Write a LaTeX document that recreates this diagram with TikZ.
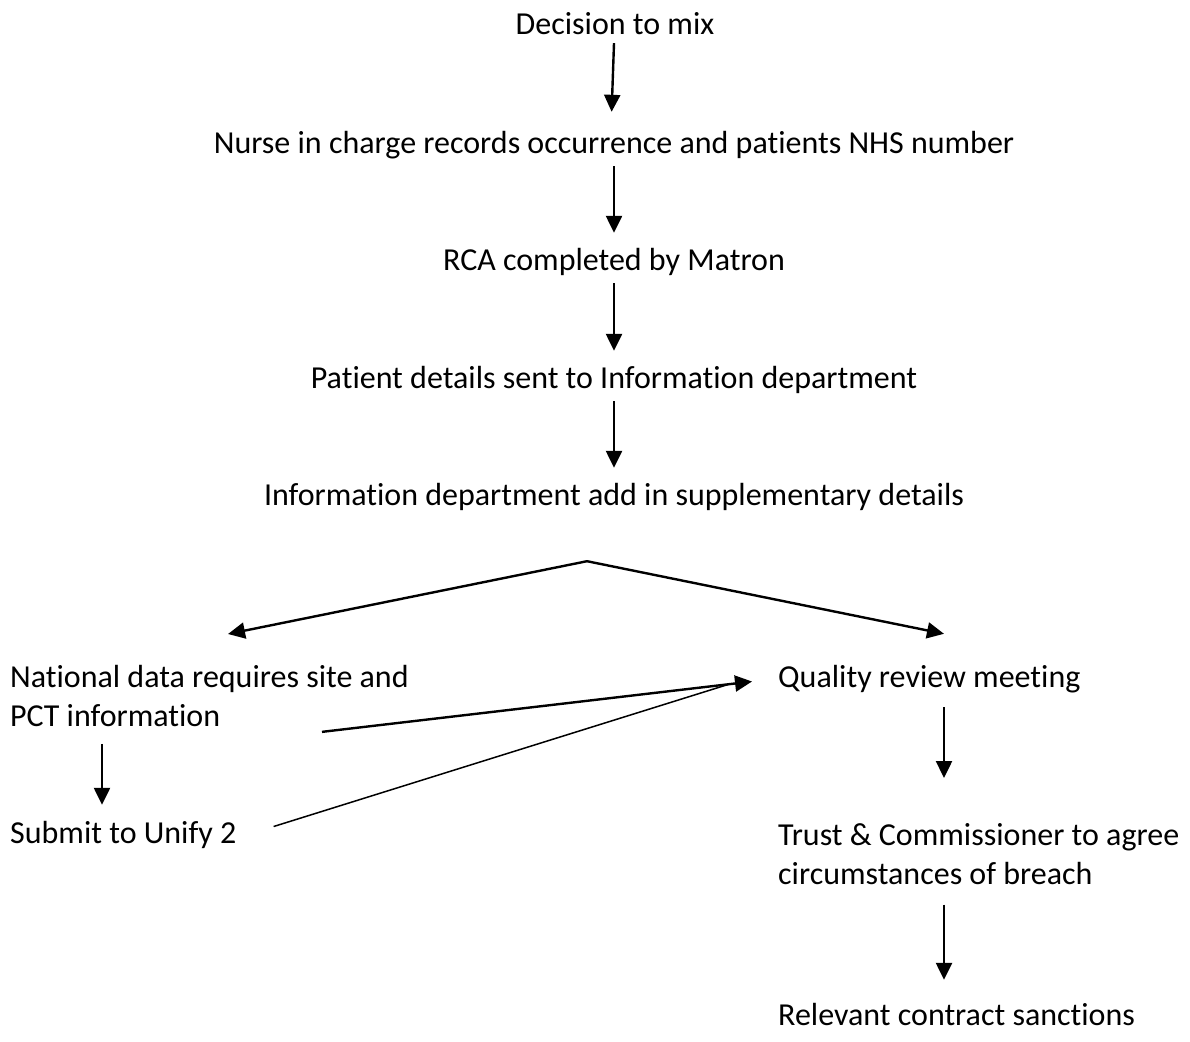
\documentclass[tikz,border=0pt]{standalone}
\usepackage{fontspec}
\setmainfont{Carlito}[Ligatures=NoCommon]
\usetikzlibrary{arrows.meta,positioning,calc}

\begin{document}
\begin{tikzpicture}[
x=1pt,
y=-1pt,
stage/.style={
inner sep=0pt,
font=\fontsize{32}{39}\selectfont,
text height=23pt,
text depth=8pt,
anchor=base
},
lstage/.style={
stage,
anchor=base west
},
twoline/.style={
inner sep=0pt,
font=\fontsize{32}{39}\selectfont,
align=left,
anchor=north west
},
flow/.style={
-{Triangle[length=17pt,width=16pt]},
line width=2.4pt,
shorten <=5pt,
shorten >=14pt
},
link/.style={
line width=1.5pt
}]

\useasboundingbox (0,0) rectangle (1190,1041);

\node [stage] (dec) at (615,35) {Decision to mix};
\node [stage] (nurse) at (614,153) {Nurse in charge records occurrence and patients NHS number};
\node [stage] (rca) at (614,270) {RCA completed by Matron};
\node [stage] (pat) at (614,388) {Patient details sent to Information department};
\node [stage] (info) at (614,505) {Information department add in supplementary details};

\node [twoline] (natl) at (10,665) {National data requires site and\\PCT information};
\node [lstage] (sub) at (10,843) {Submit to Unify 2};
\node [lstage] (qual) at (778,687) {Quality review meeting};
\node [twoline] (trust) at (778,823) {Trust \& Commissioner to agree\\circumstances of breach};
\node [lstage] (rel) at (778,1025) {Relevant contract sanctions};

\coordinate (fork) at ($(info.south)+(-27,48)$);

\draw[flow,shorten <=0pt,shorten >=18pt] ([xshift=-1pt]dec.south) -- ([xshift=-3pt]nurse.north);
\draw[flow] (nurse) -- (rca);
\draw[flow] (rca) -- (pat);
\draw[flow] (pat) -- (info);

\draw[flow,shorten <=0pt,shorten >=0pt] (fork) -- ($(natl.north west)+(218,-31)$);
\draw[flow,shorten <=0pt,shorten >=0pt] (fork) -- ($(qual.north west)+(166,-30)$);

\draw[flow,shorten <=0pt,shorten >=0pt] ($(natl.south west)+(92,17)$) -- ($(sub.north west)+(92,-15)$);
\draw[link] ($(sub.east)+(37,-9)$) -- ($(qual.west)+(-50,5)$);
\draw[flow,shorten <=0pt,shorten >=0pt] ($(natl.south west)+(312,5)$) -- ($(qual.west)+(-26,2)$);

\draw[flow,shorten <=0pt,shorten >=0pt] ($(qual.south west)+(166,12)$) -- ($(trust.north west)+(166,-45)$);
\draw[flow,shorten <=0pt,shorten >=0pt] ($(trust.south west)+(166,20)$) -- ($(rel.north west)+(166,-22)$);

\end{tikzpicture}
\end{document}
